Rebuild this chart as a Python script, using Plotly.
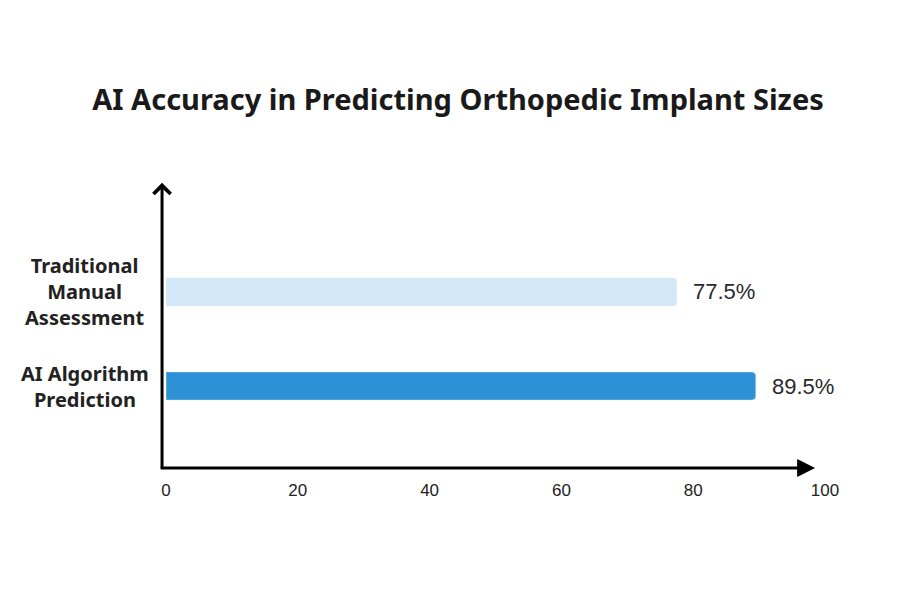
import plotly.graph_objects as go

# données du graphique
categories = ["AI Algorithm<br>Prediction", "Traditional<br>Manual<br>Assessment"]
accuracy = [89.5, 77.5]
bar_colors = ["#2D92D5", "#D3E7F8"]
x_ticks = [0, 20, 40, 60, 80, 100]

fig = go.Figure()

fig.add_trace(go.Bar(
    y=categories,
    x=accuracy,
    orientation="h",
    width=0.3,
    marker=dict(color=bar_colors, cornerradius=4),
    hoverinfo="skip",
))

# étiquettes de valeur à droite des barres
for cat, val in zip(categories, accuracy):
    fig.add_annotation(
        x=val, y=cat, xref="x", yref="y",
        text=f"{val}%", showarrow=False,
        xanchor="left", xshift=14,
        font=dict(family="Liberation Sans", size=22, color="#2a2a2a"),
    )
    # étiquettes des catégories (centrées)
    fig.add_annotation(
        x=-0.123, y=cat, xref="paper", yref="y",
        text=f"<b>{cat}</b>", showarrow=False,
        xanchor="center", align="center",
        font=dict(family="Noto Sans", size=20, color="#222222"),
    )

# axes avec flèches
fig.add_annotation(
    x=0.985, y=0, xref="paper", yref="paper",
    ax=-656, ay=0, text="", showarrow=True,
    arrowhead=2, arrowsize=1.2, arrowwidth=3, arrowcolor="black",
)
fig.add_annotation(
    x=-0.006, y=1.008, xref="paper", yref="paper",
    ax=0, ay=287, text="", showarrow=True,
    arrowhead=4, arrowsize=1.1, arrowwidth=3, arrowcolor="black",
)

fig.update_layout(
    width=900, height=600,
    paper_bgcolor="white", plot_bgcolor="white",
    margin=dict(l=158, r=83, t=177, b=140),
    title=dict(
        text="<b>AI Accuracy in Predicting Orthopedic Implant Sizes</b>",
        x=0.5, xanchor="center", y=0.847, yanchor="middle",
        font=dict(family="Noto Sans", size=29, color="#1a1a1a"),
    ),
    showlegend=False,
)
fig.update_xaxes(
    range=[0, 100], tickvals=x_ticks, showgrid=False, zeroline=False,
    showline=False, ticks="", ticklabelstandoff=10,
    tickfont=dict(family="Liberation Sans", size=17, color="#222222"),
)
fig.update_yaxes(
    type="category", range=[-0.872, 2.138], showticklabels=False,
    showgrid=False, zeroline=False, showline=False,
)

fig.write_html("out.html")
